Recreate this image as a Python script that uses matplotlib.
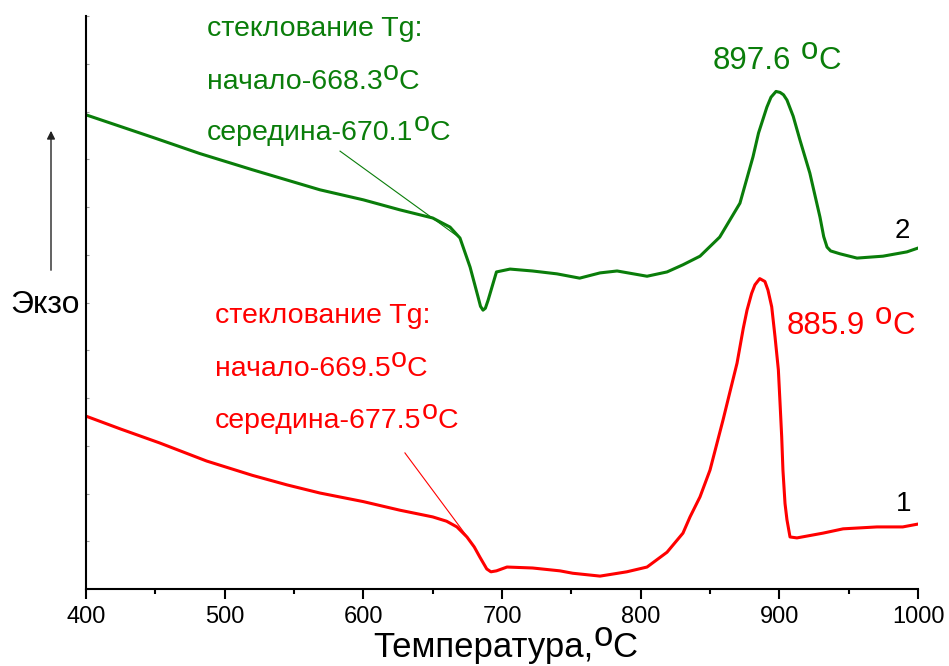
import matplotlib
matplotlib.use('Agg')
import matplotlib.pyplot as plt
from matplotlib.patches import FancyArrowPatch

# кривая 2 (зелёная)
temp_2 = [400, 450, 482, 520, 568.7, 600, 626.4, 650, 662.5, 669.7, 677, 682.7, 684.5, 686.3, 688, 690,
          696, 705.8, 722, 739.6, 756, 770.7, 783, 804.6, 819, 830.5, 842.8, 857, 871.6, 881, 885, 891,
          894, 897.6, 900.5, 903, 905.5, 910, 914.9, 922, 929.3, 932, 934.4, 937, 943.7, 956, 974.7, 992, 1000]
dsc_2 = [9.93, 9.44, 9.12, 8.78, 8.36, 8.15, 7.94, 7.77, 7.58, 7.35, 6.74, 6.12, 5.92, 5.84, 5.88, 6.05,
         6.64, 6.70, 6.66, 6.60, 6.51, 6.62, 6.66, 6.55, 6.64, 6.79, 6.97, 7.37, 8.08, 9.05, 9.55, 10.09,
         10.30, 10.42, 10.40, 10.35, 10.24, 9.90, 9.40, 8.71, 7.79, 7.38, 7.16, 7.08, 7.02, 6.93, 6.97, 7.06, 7.14]

# кривая 1 (красная)
temp_1 = [400, 425, 453, 487, 520, 545, 568.7, 600, 626.4, 650, 660, 667.5, 674.7, 680, 684, 689, 692,
          696, 703.6, 722, 741.8, 751, 770.7, 790, 804.6, 819, 830.5, 835.6, 842.8, 850, 859.4, 864.4,
          869.5, 874, 876.7, 880, 882.4, 885.9, 889.6, 891.8, 894.5, 896.9, 899.3, 900.5, 901.7, 902.6,
          904.1, 905.5, 907.7, 912.7, 931.5, 946, 970.4, 989, 1000]
dsc_1 = [3.62, 3.35, 3.06, 2.68, 2.38, 2.18, 2.01, 1.83, 1.65, 1.51, 1.42, 1.30, 1.09, 0.88, 0.67, 0.42, 0.36,
         0.38, 0.46, 0.44, 0.38, 0.33, 0.27, 0.36, 0.46, 0.77, 1.17, 1.51, 1.93, 2.49, 3.54, 4.13,
         4.73, 5.46, 5.84, 6.19, 6.37, 6.50, 6.44, 6.26, 5.91, 5.28, 4.59, 3.90, 3.19, 2.49,
         1.79, 1.45, 1.09, 1.07, 1.17, 1.26, 1.30, 1.30, 1.36]

# касательные к началу стеклования
tan_2_t = [583.2, 669.7]
tan_2_v = [9.17, 7.35]
tan_1_t = [630.0, 674.0]
tan_1_v = [2.85, 1.13]

peak_2 = 897.6
peak_1 = 885.9
tg_2 = ['стеклование Tg:', 'начало-668.3', 'середина-670.1']
tg_1 = ['стеклование Tg:', 'начало-669.5', 'середина-677.5']

plt.rcParams['font.family'] = ['Liberation Sans', 'DejaVu Sans']

green = '#0a7d0a'
red = '#ff0000'

fig = plt.figure(figsize=(9.49, 6.66), dpi=100)
ax = fig.add_axes([86 / 949, 1 - 589 / 666, 832 / 949, 573 / 666])


def deg_label(base, size, color, gap=0.0):
    # "oC" после текста: крупная приподнятая "o" и обычная "C"
    o = ax.annotate('o', xy=(1, 0), xycoords=base, xytext=(gap, 0.33 * size), textcoords='offset points',
                    fontsize=size, color=color, ha='left', va='bottom', annotation_clip=False)
    ax.annotate('C', xy=(1, 0), xycoords=(o, base), fontsize=size, color=color,
                ha='left', va='bottom', annotation_clip=False)


ax.plot(temp_2, dsc_2, color=green, lw=2.2)
ax.plot(temp_1, dsc_1, color=red, lw=2.2)
ax.plot(tan_2_t, tan_2_v, color=green, lw=0.8)
ax.plot(tan_1_t, tan_1_v, color=red, lw=0.8)

ax.set_xlim(400, 1000)
ax.set_ylim(0, 12)
ax.spines['top'].set_visible(False)
ax.spines['right'].set_visible(False)
ax.spines['left'].set_linewidth(1.5)
ax.spines['bottom'].set_linewidth(1.5)

ax.set_xticks(range(400, 1001, 100))
ax.set_xticks(range(450, 1000, 100), minor=True)
ax.tick_params(axis='x', which='major', direction='out', length=7, width=1.5, labelsize=17, pad=5)
ax.tick_params(axis='x', which='minor', direction='out', length=3.5, width=1.5)
ax.set_yticks(range(0, 13))
ax.tick_params(axis='y', which='major', direction='in', length=2.5, width=0.8, color='#999999', labelleft=False)

# подписи стеклования
for i, (line, v) in enumerate(zip(tg_2, [11.58, 10.47, 9.40])):
    t = ax.text(487.3, v, line, color=green, fontsize=20.5, va='baseline', ha='left')
    if i > 0:
        deg_label(t, 20.5, green)
for i, (line, v) in enumerate(zip(tg_1, [5.57, 4.46, 3.37])):
    t = ax.text(493.0, v, line, color=red, fontsize=20.5, va='baseline', ha='left')
    if i > 0:
        deg_label(t, 20.5, red)

# пики кристаллизации
t = ax.text(852.2, 10.89, f'{peak_2}', color=green, fontsize=22.5, va='baseline', ha='left')
deg_label(t, 22.5, green, gap=7)
t = ax.text(905.5, 5.34, f'{peak_1}', color=red, fontsize=22.5, va='baseline', ha='left')
deg_label(t, 22.5, red, gap=7)

ax.text(988.4, 7.50, '2', color='black', fontsize=20, va='center', ha='center')
ax.text(989.9, 1.78, '1', color='black', fontsize=20, va='center', ha='center')

t = fig.text(373 / 949, 1 - 657 / 666, 'Температура,', fontsize=25, ha='left', va='baseline')
deg_label(t, 25, 'black')
fig.text(45 / 949, 1 - 305 / 666, 'Экзо', fontsize=23, ha='center', va='center')
fig.add_artist(FancyArrowPatch((51 / 949, 1 - 273 / 666), (51 / 949, 1 - 128 / 666),
                               transform=fig.transFigure, arrowstyle='-|>',
                               mutation_scale=12, lw=1.0, color='#222222'))

fig.savefig('out.png', dpi=100)
